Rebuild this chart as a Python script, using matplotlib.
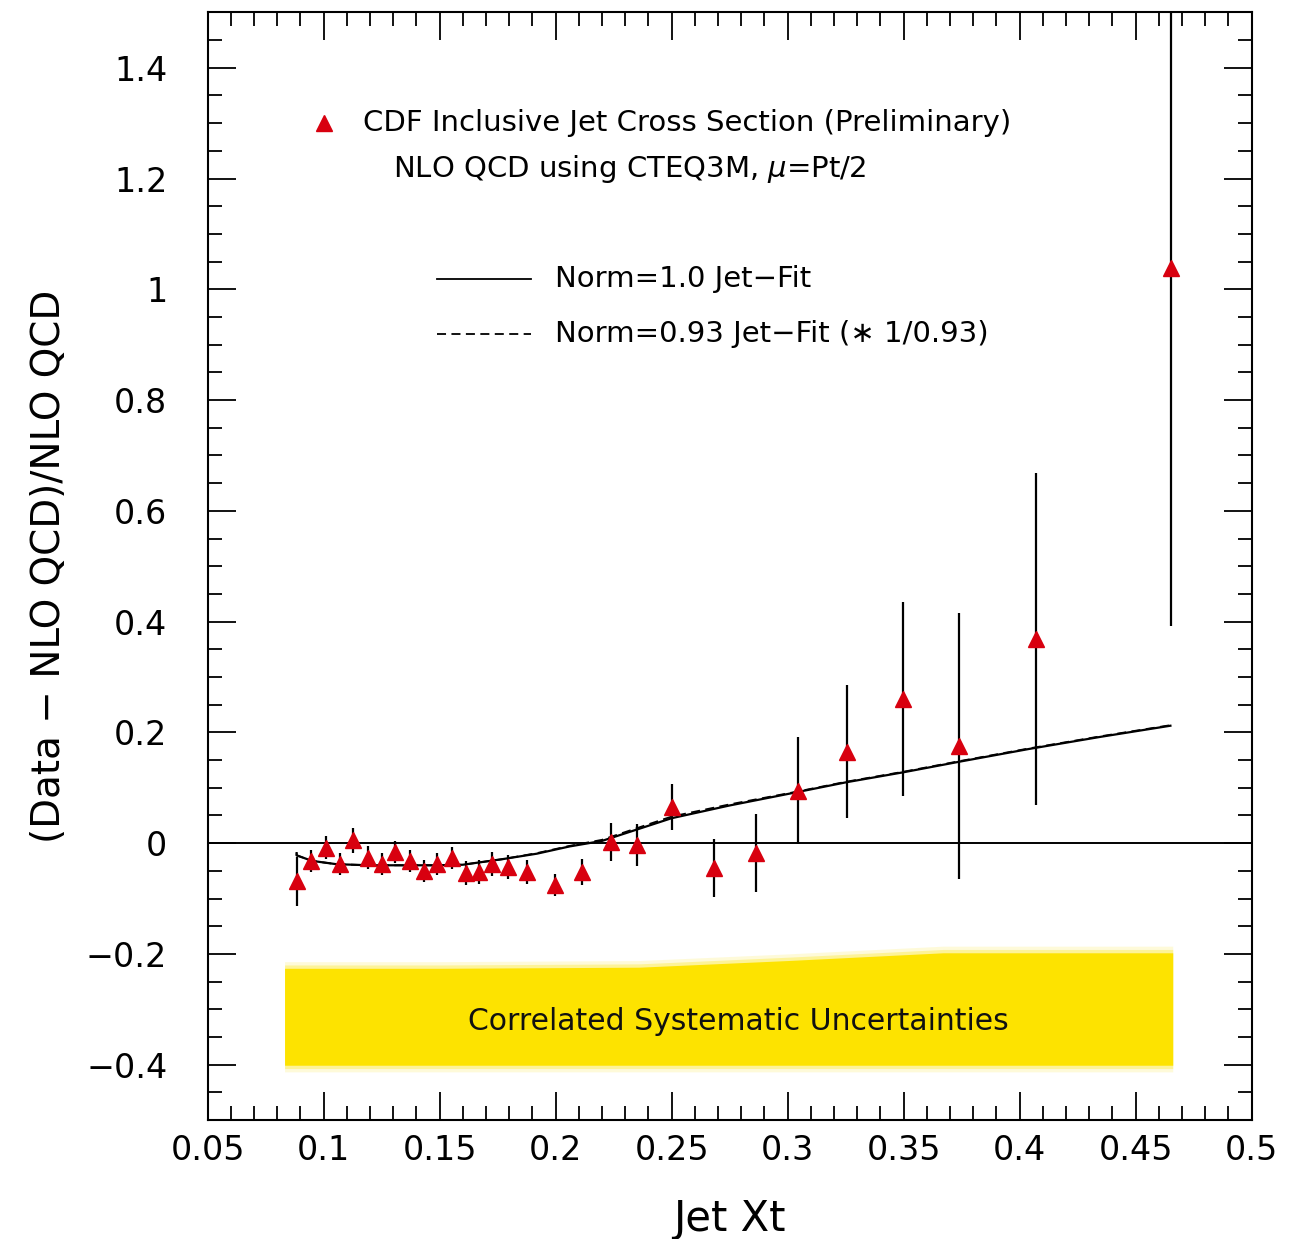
import numpy as np
import matplotlib
matplotlib.use("Agg")
import matplotlib.pyplot as plt
from matplotlib.ticker import MultipleLocator

# ---- data ----
xt = [0.0884, 0.0948, 0.1009, 0.1069, 0.1129, 0.1190, 0.1250, 0.1310, 0.1371, 0.1431,
      0.1491, 0.1552, 0.1612, 0.1668, 0.1728, 0.1793, 0.1875, 0.1996, 0.2116, 0.2241,
      0.2353, 0.2500, 0.2681, 0.2866, 0.3043, 0.3254, 0.3496, 0.3737, 0.4069, 0.4651]
ratio = [-0.069, -0.032, -0.008, -0.038, 0.005, -0.026, -0.038, -0.016, -0.032, -0.050,
         -0.038, -0.027, -0.054, -0.052, -0.038, -0.043, -0.052, -0.075, -0.052, 0.002,
         -0.004, 0.065, -0.045, -0.018, 0.095, 0.165, 0.261, 0.176, 0.369, 1.038]
err = [0.044, 0.020, 0.020, 0.020, 0.023, 0.020, 0.020, 0.020, 0.020, 0.020,
       0.020, 0.020, 0.022, 0.022, 0.022, 0.022, 0.022, 0.020, 0.024, 0.034,
       0.038, 0.042, 0.052, 0.070, 0.097, 0.120, 0.175, 0.240, 0.300, 0.646]

fit_x = [0.0884, 0.0884, 0.095, 0.1055, 0.120, 0.148, 0.160, 0.177, 0.192, 0.206, 0.220,
         0.250, 0.275, 0.304, 0.3254, 0.350, 0.374, 0.404, 0.435, 0.465]
fit_norm1 = [-0.018, -0.022, -0.032, -0.038, -0.040, -0.040, -0.039, -0.029, -0.019, -0.006, 0.004,
             0.045, 0.068, 0.092, 0.110, 0.128, 0.147, 0.170, 0.192, 0.212]
fit_norm093 = [-0.018, -0.022, -0.032, -0.038, -0.040, -0.040, -0.039, -0.029, -0.018, -0.005, 0.006,
               0.048, 0.070, 0.093, 0.111, 0.129, 0.148, 0.171, 0.193, 0.213]

band_x = [0.0832, 0.150, 0.236, 0.300, 0.367, 0.420, 0.466]
band_top = [-0.226, -0.226, -0.224, -0.212, -0.198, -0.198, -0.198]
band_bot = [-0.401, -0.401, -0.401, -0.401, -0.401, -0.401, -0.401]

xticks = [0.05, 0.1, 0.15, 0.2, 0.25, 0.3, 0.35, 0.4, 0.45, 0.5]
xticklabels = ["0.05", "0.1", "0.15", "0.2", "0.25", "0.3", "0.35", "0.4", "0.45", "0.5"]
yticks = [-0.4, -0.2, 0, 0.2, 0.4, 0.6, 0.8, 1, 1.2, 1.4]
yticklabels = ["\u22120.4", "\u22120.2", "0", "0.2", "0.4", "0.6", "0.8", "1", "1.2", "1.4"]

plt.rcParams['font.family'] = ['DejaVu Sans']

fig = plt.figure(figsize=(12.89, 12.39), dpi=100)
ax = fig.add_axes([0.161, 0.096, 0.810, 0.894])

ax.set_xlim(0.05, 0.5)
ax.set_ylim(-0.5, 1.5)

# yellow systematic band (soft edges)
yellow = '#FDE300'
for grow, a in [(0.012, 0.15), (0.006, 0.3)]:
    ax.fill_between(band_x, [t + grow for t in band_top], [b - grow for b in band_bot],
                    color=yellow, alpha=a, lw=0, zorder=1)
ax.fill_between(band_x, band_top, band_bot, color=yellow, lw=0, zorder=1)
ax.text(0.279, -0.322, "Correlated Systematic Uncertainties", ha='center', va='center',
        fontsize=21.5, color='#111111', zorder=2)

# zero line
ax.axhline(0, color='black', lw=1.4, zorder=2)

# fits
dash = (0, (5, 3))
ax.plot(fit_x, fit_norm093, color='black', lw=1.3, ls=dash, zorder=3)
ax.plot(fit_x, fit_norm1, color='black', lw=1.6, zorder=3)

# data
ax.errorbar(xt, ratio, yerr=err, fmt='none', ecolor='black', elinewidth=1.6, capsize=0, zorder=4)
ax.plot(xt, ratio, ls='none', marker='^', color='#D8000F', markersize=12, zorder=5)

# legend block (drawn as text)
fs = 21
ax.plot([0.1], [1.30], marker='^', color='#D8000F', markersize=12, ls='none')
ax.text(0.117, 1.30, "CDF Inclusive Jet Cross Section (Preliminary)", fontsize=fs,
        va='center', ha='left')
ax.text(0.130, 1.218, "NLO QCD using CTEQ3M, $\\mu$=Pt/2", fontsize=fs,
        va='center', ha='left')
ax.plot([0.1489, 0.1894], [1.018, 1.018], color='black', lw=1.3)
ax.text(0.1997, 1.018, "Norm=1.0 Jet\u2212Fit", fontsize=fs, va='center', ha='left')
ax.plot([0.1489, 0.1894], [0.919, 0.919], color='black', lw=1.3, ls=dash)
ax.text(0.1997, 0.919, "Norm=0.93 Jet\u2212Fit (\u2217 1/0.93)", fontsize=fs,
        va='center', ha='left')

# ticks
ax.set_xticks(xticks)
ax.set_xticklabels(xticklabels)
ax.set_yticks(yticks)
ax.set_yticklabels(yticklabels)
ax.xaxis.set_minor_locator(MultipleLocator(0.01))
ax.yaxis.set_minor_locator(MultipleLocator(0.05))
ax.tick_params(which='both', direction='in', top=True, right=True, width=1.3)
ax.tick_params(which='major', length=20, labelsize=24)
ax.tick_params(axis='x', which='major', pad=10)
ax.tick_params(axis='y', which='major', pad=29)
ax.tick_params(which='minor', length=10)
for s in ax.spines.values():
    s.set_linewidth(1.5)

ax.set_xlabel("Jet Xt", fontsize=30, labelpad=22)
ax.set_ylabel("(Data \u2212 NLO QCD)/NLO QCD", fontsize=28, labelpad=13)

fig.savefig("out.png", dpi=100)
